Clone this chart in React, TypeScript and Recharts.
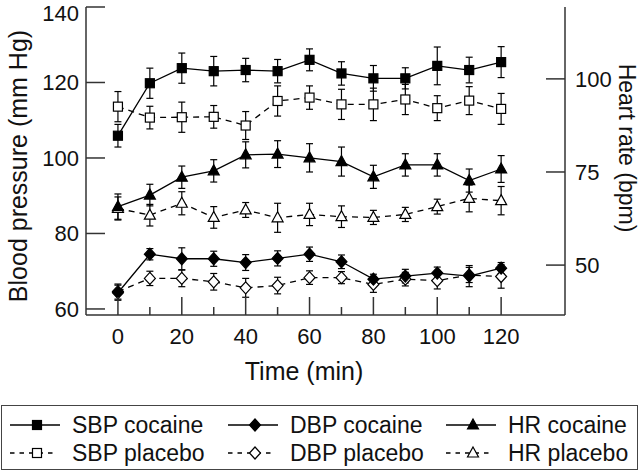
import React from 'react';
import { ComposedChart, Line, XAxis, YAxis, ErrorBar, Legend } from 'recharts';

// time points (min)
const times = [0, 10, 20, 30, 40, 50, 60, 70, 80, 90, 100, 110, 120];

// blood pressure, mm Hg (left axis)
const sbpCocaine = [105.9, 119.8, 123.8, 123.0, 123.3, 123.0, 126.0, 122.4, 121.1, 121.1, 124.4, 123.3, 125.4];
const sbpCocaineErr = [3.0, 4.0, 4.0, 3.9, 3.1, 3.1, 2.9, 3.1, 3.4, 2.8, 5.0, 3.4, 4.1];
const sbpPlacebo = [113.6, 110.7, 110.8, 110.9, 108.6, 115.1, 116.0, 114.2, 114.2, 115.5, 113.2, 115.2, 113.0];
const sbpPlaceboErr = [4.0, 3.0, 4.0, 3.0, 3.7, 4.0, 3.1, 4.0, 4.3, 4.0, 3.3, 3.7, 4.1];
const dbpCocaine = [64.3, 74.5, 73.3, 73.3, 72.3, 73.4, 74.5, 72.5, 67.9, 68.7, 69.5, 68.7, 70.8];
const dbpCocaineErr = [2.0, 1.5, 2.9, 2.0, 2.1, 2.0, 1.9, 1.8, 1.3, 1.8, 1.6, 2.8, 1.5];
const dbpPlacebo = [64.6, 68.1, 68.1, 67.2, 65.6, 66.2, 68.3, 68.3, 66.5, 67.9, 67.5, 69.0, 68.6];
const dbpPlaceboErr = [2.0, 1.9, 2.2, 2.2, 2.5, 2.2, 1.8, 1.6, 2.1, 1.8, 2.2, 2.0, 3.1];

// heart rate, bpm (right axis)
const hrCocaine = [65.7, 68.8, 73.6, 75.3, 79.6, 79.8, 78.8, 77.8, 73.7, 76.9, 76.9, 72.7, 75.8];
const hrCocaineErr = [3.4, 2.9, 3.0, 3.0, 3.5, 3.6, 3.8, 3.9, 3.1, 3.0, 3.0, 3.1, 3.6];
const hrPlacebo = [65.2, 63.4, 66.6, 62.8, 64.8, 62.7, 63.6, 63.0, 62.8, 63.6, 65.7, 67.9, 67.3];
const hrPlaceboErr = [3.1, 2.9, 3.1, 2.9, 2.0, 3.9, 3.0, 2.9, 1.9, 1.9, 2.0, 3.6, 3.8];

const timeTicks = [0, 10, 20, 30, 40, 50, 60, 70, 80, 90, 100, 110, 120];
const bpTicks = [60, 80, 100, 120, 140];
const hrTicks = [50, 75, 100];

const data = times.map((t, i) => ({
  time: t,
  sbpC: sbpCocaine[i], sbpCErr: sbpCocaineErr[i],
  sbpP: sbpPlacebo[i], sbpPErr: sbpPlaceboErr[i],
  dbpC: dbpCocaine[i], dbpCErr: dbpCocaineErr[i],
  dbpP: dbpPlacebo[i], dbpPErr: dbpPlaceboErr[i],
  hrC: hrCocaine[i], hrCErr: hrCocaineErr[i],
  hrP: hrPlacebo[i], hrPErr: hrPlaceboErr[i],
}));

type Shape = 'square' | 'diamond' | 'triangle';

// placebo first so cocaine markers sit on top
const series: { key: string; name: string; axis: string; shape: Shape; filled: boolean }[] = [
  { key: 'sbpP', name: 'SBP placebo', axis: 'bp', shape: 'square', filled: false },
  { key: 'dbpP', name: 'DBP placebo', axis: 'bp', shape: 'diamond', filled: false },
  { key: 'hrP', name: 'HR placebo', axis: 'hr', shape: 'triangle', filled: false },
  { key: 'sbpC', name: 'SBP cocaine', axis: 'bp', shape: 'square', filled: true },
  { key: 'dbpC', name: 'DBP cocaine', axis: 'bp', shape: 'diamond', filled: true },
  { key: 'hrC', name: 'HR cocaine', axis: 'hr', shape: 'triangle', filled: true },
];

const legendOrder = ['sbpC', 'dbpC', 'hrC', 'sbpP', 'dbpP', 'hrP'];

const FONT = '"Liberation Sans", Arial, Helvetica, sans-serif';
const AXIS = '#333';

function Marker({ cx, cy, shape, filled }: { cx: number; cy: number; shape: Shape; filled: boolean }) {
  const fill = filled ? '#000' : '#fff';
  if (shape === 'square') {
    return <rect x={cx - 4.5} y={cy - 4.5} width={9} height={9} fill={fill} stroke="#000" strokeWidth={1.2} />;
  }
  if (shape === 'diamond') {
    return (
      <polygon
        points={`${cx},${cy - 6} ${cx + 5.5},${cy} ${cx},${cy + 6} ${cx - 5.5},${cy}`}
        fill={fill}
        stroke="#000"
        strokeWidth={1.2}
      />
    );
  }
  return (
    <polygon
      points={`${cx},${cy - 6} ${cx + 5.5},${cy + 4} ${cx - 5.5},${cy + 4}`}
      fill={fill}
      stroke="#000"
      strokeWidth={1.2}
    />
  );
}

function TimeTick(props: any) {
  const { x, y, payload } = props;
  const v = payload.value;
  const major = v % 20 === 0;
  return (
    <g>
      <line x1={x} x2={x} y1={y} y2={y - (major ? 18 : 8)} stroke={AXIS} strokeWidth={1.5} />
      {major && (
        <text x={x} y={y + 29} textAnchor="middle" fontSize={22} fontFamily={FONT} fill="#111">
          {v}
        </text>
      )}
    </g>
  );
}

function BpTick(props: any) {
  const { x, y, payload } = props;
  // top label would leave the page, keep it just inside
  const ty = Math.max(y + 8, 21);
  return (
    <g>
      <line x1={x} x2={x + 19} y1={y} y2={y} stroke={AXIS} strokeWidth={1.5} />
      <text x={x - 7} y={ty} textAnchor="end" fontSize={22} fontFamily={FONT} fill="#111">
        {payload.value}
      </text>
    </g>
  );
}

function HrTick(props: any) {
  const { x, y, payload } = props;
  return (
    <g>
      <line x1={x} x2={x - 19} y1={y} y2={y} stroke={AXIS} strokeWidth={1.5} />
      <text x={x + 10} y={y + 8} textAnchor="start" fontSize={22} fontFamily={FONT} fill="#111">
        {payload.value}
      </text>
    </g>
  );
}

function LegendBox() {
  return (
    <div
      style={{
        position: 'relative',
        width: 637,
        height: 65,
        boxSizing: 'border-box',
        border: '1.5px solid #444',
        fontFamily: FONT,
        fontSize: 23,
        color: '#111',
        background: '#fff',
      }}
    >
      {legendOrder.map((k, i) => {
        const s = series.find((d) => d.key === k)!;
        const col = i % 3;
        const row = Math.floor(i / 3);
        return (
          <div
            key={k}
            style={{
              position: 'absolute',
              left: 8 + col * 218,
              top: 6 + row * 28,
              height: 26,
              display: 'flex',
              alignItems: 'center',
              whiteSpace: 'nowrap',
            }}
          >
            <svg width={52} height={26} style={{ display: 'block' }}>
              <line
                x1={0}
                x2={s.filled ? 50 : 46}
                y1={13}
                y2={13}
                stroke="#000"
                strokeWidth={1.3}
                strokeDasharray={s.filled ? undefined : '4.5 5'}
              />
              <Marker cx={27} cy={13} shape={s.shape} filled={s.filled} />
            </svg>
            <span style={{ marginLeft: 10, lineHeight: '26px' }}>{s.name}</span>
          </div>
        );
      })}
    </div>
  );
}

export default function App() {
  return (
    <div style={{ width: 640, height: 471, background: '#fff', position: 'relative' }}>
      <style>{'body{margin:0}'}</style>
      <ComposedChart width={640} height={471} data={data} margin={{ top: 7, right: 0, bottom: 0, left: 0 }}>
        <XAxis
          dataKey="time"
          type="number"
          domain={[-10, 140]}
          allowDataOverflow
          ticks={timeTicks}
          interval={0}
          tickSize={0}
          tickMargin={0}
          tickLine={false}
          tick={<TimeTick />}
          axisLine={{ stroke: AXIS, strokeWidth: 1.5 }}
          height={156}
          label={{
            value: 'Time (min)',
            content: () => (
              <text x={304} y={380} textAnchor="middle" fontSize={25} fontFamily={FONT} fill="#111">
                Time (min)
              </text>
            ),
          }}
        />
        <YAxis
          yAxisId="bp"
          orientation="left"
          type="number"
          domain={[58.4, 140]}
          allowDataOverflow
          ticks={bpTicks}
          interval={0}
          width={86}
          tickSize={0}
          tickMargin={0}
          tickLine={false}
          tick={<BpTick />}
          axisLine={{ stroke: AXIS, strokeWidth: 1.5 }}
          label={{
            value: 'Blood pressure (mm Hg)',
            content: () => (
              <text
                x={27}
                y={166}
                transform="rotate(-90 27 166)"
                textAnchor="middle"
                fontSize={25}
                fontFamily={FONT}
                fill="#111"
              >
                Blood pressure (mm Hg)
              </text>
            ),
          }}
        />
        <YAxis
          yAxisId="hr"
          orientation="right"
          type="number"
          domain={[36.6, 119.3]}
          allowDataOverflow
          ticks={hrTicks}
          interval={0}
          width={75}
          tickSize={0}
          tickMargin={0}
          tickLine={false}
          tick={<HrTick />}
          axisLine={{ stroke: AXIS, strokeWidth: 1.5 }}
          label={{
            value: 'Heart rate (bpm)',
            content: () => (
              <text
                x={619}
                y={148}
                transform="rotate(90 619 148)"
                textAnchor="middle"
                fontSize={23}
                fontFamily={FONT}
                fill="#111"
              >
                Heart rate (bpm)
              </text>
            ),
          }}
        />
        {series.map((s) => (
          <Line
            key={s.key}
            yAxisId={s.axis}
            dataKey={s.key}
            name={s.name}
            type="linear"
            stroke="#000"
            strokeWidth={1.3}
            strokeDasharray={s.filled ? undefined : '6 5'}
            isAnimationActive={false}
            activeDot={false}
            dot={(p: any) => (
              <Marker key={`${s.key}-${p.index}`} cx={p.cx} cy={p.cy} shape={s.shape} filled={s.filled} />
            )}
          >
            <ErrorBar
              dataKey={`${s.key}Err`}
              direction="y"
              width={3.5}
              stroke="#000"
              strokeWidth={1.2}
              isAnimationActive={false}
            />
          </Line>
        ))}
        <Legend
          layout="horizontal"
          verticalAlign="middle"
          align="center"
          wrapperStyle={{ position: 'absolute', left: 1, top: 405, width: 637, height: 65 }}
          content={() => <LegendBox />}
        />
      </ComposedChart>
    </div>
  );
}
